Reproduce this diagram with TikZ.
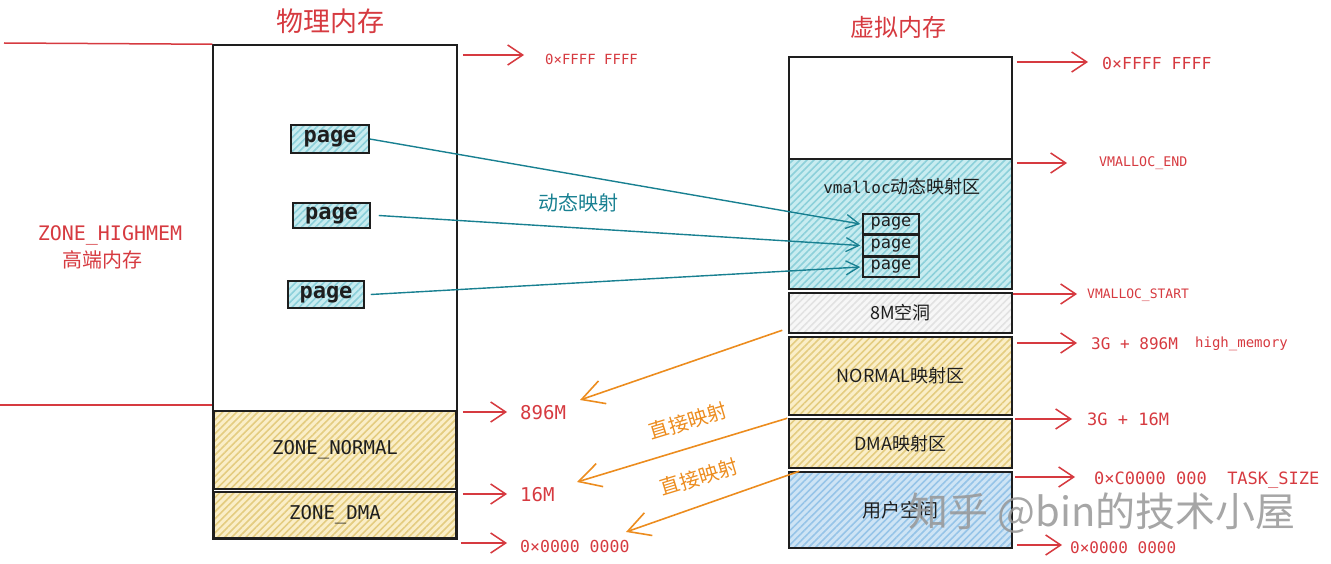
\documentclass[tikz,border=0pt]{standalone}
\usepackage{fontspec}
\setmainfont{DejaVu Sans Mono}
\newfontfamily\cjk{Noto Sans CJK SC}
\newfontfamily\mono{DejaVu Sans Mono}
\usetikzlibrary{arrows.meta,patterns.meta}
\definecolor{rd}{RGB}{214,58,64}
\definecolor{tl}{RGB}{24,128,145}
\definecolor{og}{RGB}{236,140,30}
\definecolor{cybg}{RGB}{200,236,240}
\definecolor{cyln}{RGB}{140,208,218}
\definecolor{yebg}{RGB}{250,238,200}
\definecolor{yeln}{RGB}{228,204,128}
\definecolor{blbg}{RGB}{206,228,245}
\definecolor{blln}{RGB}{150,196,232}
\definecolor{gybg}{RGB}{247,247,247}
\definecolor{gyln}{RGB}{226,226,226}
\definecolor{ink}{RGB}{30,30,30}
\definecolor{wm}{RGB}{150,150,150}
\newcommand\fsz[1]{\fontsize{#1}{#1}\selectfont}
\tikzset{
  region/.style={draw=ink, line width=1.5pt, inner sep=0pt, anchor=center, text=ink},
  hatch/.style 2 args={preaction={fill=#1}, preaction={pattern={Lines[angle=45,distance=5pt,line width=1.6pt]}, pattern color=#2}},
  lbl/.style={inner sep=0pt, anchor=west, text=rd},
  redarr/.style={draw=rd, line width=1.5pt, -{Straight Barb[length=15pt,width=20pt,line width=1.5pt]}},
  redline/.style={draw=rd, line width=1.5pt},
  tealarr/.style={draw=tl, line width=1.4pt, -{Straight Barb[length=13pt,width=14pt,line width=1.3pt]}},
  orarr/.style={draw=og, line width=1.6pt, -{Straight Barb[length=22pt,width=24pt,line width=1.6pt]}},
}
\begin{document}
\begin{tikzpicture}[x=1pt,y=-1pt]
\useasboundingbox (0,0) rectangle (1331,564);
% ---------- physical memory ----------
\node[text=rd, font=\cjk\fsz{27}] (tphys) at (330,21) {物理内存};
\node[region, fill=white, minimum width=244pt, minimum height=494pt] (phys) at (335,292) {};
\node[region, hatch={yebg}{yeln}, minimum width=242pt, minimum height=78pt, font=\mono\fsz{19}] (znorm) at (335,450) {ZONE\_NORMAL};
\node[region, hatch={yebg}{yeln}, minimum width=242pt, minimum height=46pt, font=\mono\fsz{19}] (zdma) at (335,515) {ZONE\_DMA};
\node[region, hatch={cybg}{cyln}, minimum width=78pt, minimum height=28pt, font=\mono\bfseries\fsz{22}] (p1) at (330,139) {page};
\node[region, hatch={cybg}{cyln}, minimum width=77pt, minimum height=25pt, font=\mono\bfseries\fsz{22}] (p2) at (331.5,215.5) {page};
\node[region, hatch={cybg}{cyln}, minimum width=76pt, minimum height=27pt, font=\mono\bfseries\fsz{22}] (p3) at (326,294.5) {page};
% left side labels
\node[text=rd, font=\mono\fsz{20}] (zhigh) at (110,235) {ZONE\_HIGHMEM};
\node[text=rd, font=\cjk\fsz{20}] (zhighcn) at (102,260) {高端内存};
\coordinate (lt) at (4,43);
\coordinate (lb) at (0,405);
\draw[redline] (lt) -- (phys.north west);
\draw[redline] (lb) -- (phys.west |- lb);
% right of physical
\node[lbl, font=\mono\fsz{14}] (lF) at (545,59) {0×FFFF FFFF};
\node[lbl, font=\mono\fsz{19}] (l896) at (520,413) {896M};
\node[lbl, font=\mono\fsz{19}] (l16) at (520,495) {16M};
\node[lbl, font=\mono\fsz{16.5}] (l0) at (520,546) {0×0000 0000};
\coordinate (eF) at (524,55);
\coordinate (e896) at (507,412);
\coordinate (e16) at (507,494);
\coordinate (e0) at (507,543);
\draw[redarr] ([xshift=5pt]phys.east |- eF) -- (eF);
\draw[redarr] ([xshift=5pt]phys.east |- e896) -- (e896);
\draw[redarr] ([xshift=5pt]phys.east |- e16) -- (e16);
\draw[redarr] ([xshift=3pt]phys.east |- e0) -- (e0);
% ---------- virtual memory ----------
\node[text=rd, font=\cjk\fsz{24}] (tvirt) at (898,27) {虚拟内存};
\node[region, fill=white, minimum width=223pt, minimum height=102pt] (vtop) at (900.5,108) {};
\node[region, hatch={cybg}{cyln}, minimum width=223pt, minimum height=130pt] (vmal) at (900.5,224) {};
\node[inner sep=0pt, text=ink] (vmallbl) at (902,187) {{\mono\fsz{16}vmalloc}{\cjk\fsz{18}动态映射区}};
\node[region, hatch={gybg}{gyln}, minimum width=223pt, minimum height=40pt, font=\cjk\fsz{18}] (hole) at (900.5,313) {8M空洞};
\node[region, hatch={yebg}{yeln}, minimum width=223pt, minimum height=78pt, font=\cjk\fsz{18}] (nmap) at (900.5,376) {NORMAL映射区};
\node[region, hatch={yebg}{yeln}, minimum width=223pt, minimum height=49pt, font=\cjk\fsz{18}] (dmap) at (900.5,443.5) {DMA映射区};
\node[region, hatch={blbg}{blln}, minimum width=223pt, minimum height=76pt, font=\cjk\fsz{19}] (user) at (900.5,510) {用户空间};
\node[region, hatch={cybg}{cyln}, minimum width=56pt, minimum height=20pt, font=\mono\fsz{17}] (vp1) at (891,224) {page};
\node[region, hatch={cybg}{cyln}, minimum width=56pt, minimum height=20pt, font=\mono\fsz{17}] (vp2) at (891,245.5) {page};
\node[region, hatch={cybg}{cyln}, minimum width=56pt, minimum height=20pt, font=\mono\fsz{17}] (vp3) at (891,267) {page};
% right labels
\node[lbl, font=\mono\fsz{16.5}] (rF) at (1102,63) {0×FFFF FFFF};
\node[lbl, font=\mono\fsz{13.3}] (rVE) at (1099,163) {VMALLOC\_END};
\node[lbl, font=\mono\fsz{13}] (rVS) at (1087,295) {VMALLOC\_START};
\node[lbl, font=\mono\fsz{16}] (r896) at (1091,344) {3G + 896M};
\node[lbl, font=\mono\fsz{14}] (rhm) at (1195,344) {high\_memory};
\node[lbl, font=\mono\fsz{17}] (r16) at (1087,419) {3G + 16M};
\node[lbl, font=\mono\fsz{17}] (rTS) at (1094,480) {0×C0000 000\ \ TASK\_SIZE};
\node[lbl, font=\mono\fsz{16}] (r0) at (1070,548) {0×0000 0000};
\coordinate (fF) at (1088,62);
\coordinate (fVE) at (1067,163);
\coordinate (fVS) at (1077,294);
\coordinate (f896) at (1077,343);
\coordinate (f16) at (1072,419);
\coordinate (fTS) at (1075,477);
\coordinate (f0) at (1062,545);
\draw[redarr] ([xshift=4pt]vtop.east |- fF) -- (fF);
\draw[redarr] ([xshift=4pt]vtop.east |- fVE) -- (fVE);
\draw[redarr] (vtop.east |- fVS) -- (fVS);
\draw[redarr] ([xshift=4pt]vtop.east |- f896) -- (f896);
\draw[redarr] ([xshift=2pt]vtop.east |- f16) -- (f16);
\draw[redarr] ([xshift=2pt]vtop.east |- fTS) -- (fTS);
\draw[redarr] ([xshift=4pt]vtop.east |- f0) -- (f0);
% ---------- dynamic mapping ----------
\draw[tealarr] (p1.east) -- ([xshift=-2pt]vp1.west);
\draw[tealarr] ([xshift=8pt]p2.east) -- ([xshift=-2pt]vp2.west);
\draw[tealarr] ([xshift=6pt]p3.east) -- ([xshift=-2pt]vp3.west);
\node[text=tl, font=\cjk\fsz{20}] (dyn) at (578,203) {动态映射};
% ---------- direct mapping ----------
\coordinate (o1) at (580,400);
\coordinate (o2) at (577,482);
\coordinate (o3) at (626,532);
\draw[orarr] ([xshift=-6pt,yshift=6pt]nmap.north west) -- (o1);
\draw[orarr] ([xshift=-1pt]dmap.north west) -- (o2);
\draw[orarr] ([xshift=11pt]user.north west) -- (o3);
\node[text=og, font=\cjk\fsz{20}, rotate=17] (dir1) at (688,421) {直接映射};
\node[text=og, font=\cjk\fsz{20}, rotate=17] (dir2) at (699,477) {直接映射};
% ---------- watermark ----------
\node[text=wm, opacity=0.85, font=\cjk\fsz{40}] (wmk) at (1102,513) {知乎 @bin的技术小屋};
\end{tikzpicture}
\end{document}
